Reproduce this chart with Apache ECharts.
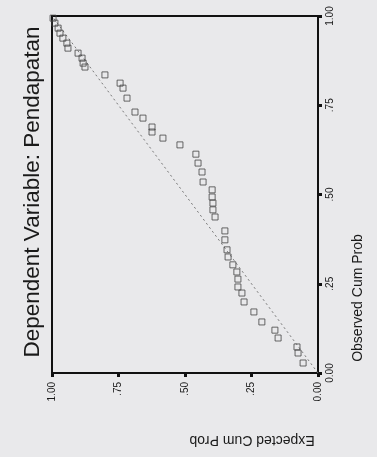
<!DOCTYPE html>
<html>
<head>
<meta charset="utf-8">
<script src="https://cdn.jsdelivr.net/npm/echarts@6/dist/echarts.min.js"></script>
<style>
  html, body { margin: 0; padding: 0; background: #e9e9eb; }
  #chart { width: 377px; height: 457px; }
</style>
</head>
<body>
<div id="chart"></div>
<script>
// P-P plot, picture is turned 90° counter-clockwise
const observedCumProb = [
  0.994, 0.980, 0.966, 0.952, 0.938, 0.924, 0.910, 0.896, 0.882, 0.868, 0.857,
  0.835, 0.812, 0.798, 0.770, 0.731, 0.714, 0.689, 0.675, 0.658, 0.639,
  0.613, 0.588, 0.563, 0.535, 0.513, 0.493, 0.476, 0.457, 0.437,
  0.398, 0.373, 0.345, 0.325, 0.303, 0.283, 0.263, 0.241, 0.224, 0.199,
  0.171, 0.143, 0.120, 0.098, 0.073, 0.056, 0.028
]
const expectedCumProb = [
  0.996, 0.989, 0.977, 0.970, 0.959, 0.944, 0.940, 0.902, 0.887, 0.883, 0.876,
  0.801, 0.744, 0.733, 0.718, 0.688, 0.658, 0.624, 0.624, 0.583, 0.519,
  0.459, 0.451, 0.436, 0.432, 0.398, 0.398, 0.395, 0.395, 0.387,
  0.350, 0.350, 0.342, 0.338, 0.320, 0.305, 0.301, 0.301, 0.286, 0.278,
  0.241, 0.211, 0.162, 0.150, 0.079, 0.075, 0.056
]
const refLine = [0, 1]
const tickLabels = ['0.00', '.25', '.50', '.75', '1.00']

const font = '"Liberation Sans", Arial, sans-serif'

const chart = echarts.init(document.getElementById('chart'))

const axisCommon = {
  type: 'value',
  min: 0,
  max: 1,
  interval: 0.25,
  splitLine: { show: false },
  axisLine: { show: true, lineStyle: { color: '#111', width: 2 } },
  axisTick: { show: true, length: 4, lineStyle: { color: '#111', width: 3 } },
  axisLabel: {
    rotate: 90,
    fontSize: 10,
    fontFamily: font,
    color: '#1a1a1a',
    formatter: (v) => tickLabels[Math.round(v * 4)]
  }
}

const option = {
  backgroundColor: '#e9e9eb',
  animation: false,
  grid: {
    left: 52,
    right: 59,
    top: 16,
    bottom: 84,
    show: true,
    borderColor: '#111',
    borderWidth: 2,
    backgroundColor: 'transparent'
  },
  // expected cum prob runs along the bottom, 1 at left
  xAxis: Object.assign({}, axisCommon, {
    inverse: true,
    position: 'bottom',
    axisLabel: Object.assign({}, axisCommon.axisLabel, { margin: 9 })
  }),
  // observed cum prob runs up the right side
  yAxis: Object.assign({}, axisCommon, {
    position: 'right',
    axisLabel: Object.assign({}, axisCommon.axisLabel, { margin: 7 })
  }),
  graphic: [
    {
      type: 'text',
      x: 33, y: 192,
      rotation: Math.PI / 2,
      style: {
        text: 'Dependent Variable: Pendapatan',
        font: '22.5px ' + font,
        fill: '#1a1a1a',
        align: 'center',
        verticalAlign: 'middle'
      }
    },
    {
      type: 'text',
      x: 358, y: 298,
      rotation: Math.PI / 2,
      style: {
        text: 'Observed Cum Prob',
        font: '14px ' + font,
        fill: '#1a1a1a',
        align: 'center',
        verticalAlign: 'middle'
      }
    },
    {
      type: 'text',
      x: 252, y: 440,
      rotation: Math.PI,
      style: {
        text: 'Expected Cum Prob',
        font: '14px ' + font,
        fill: '#1a1a1a',
        align: 'center',
        verticalAlign: 'middle'
      }
    }
  ],
  series: [
    {
      type: 'line',
      data: refLine.map(v => [v, v]),
      symbol: 'none',
      lineStyle: { color: '#777', width: 1, type: [2, 3] },
      z: 1
    },
    {
      type: 'scatter',
      data: expectedCumProb.map((e, i) => [e, observedCumProb[i]]),
      symbol: 'rect',
      symbolSize: 6,
      itemStyle: { color: 'transparent', borderColor: '#444', borderWidth: 1 },
      z: 2
    }
  ]
}

chart.setOption(option)
</script>
</body>
</html>
